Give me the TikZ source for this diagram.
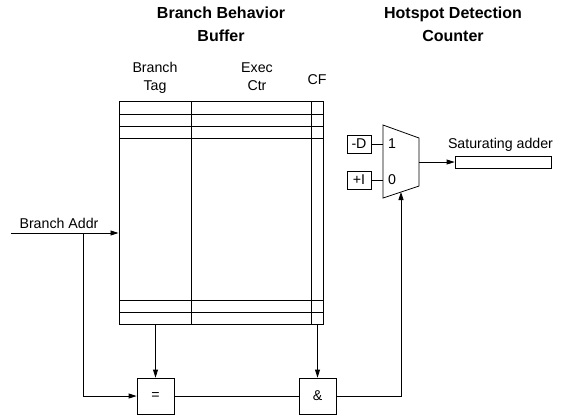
\documentclass[tikz,border=0pt]{standalone}
\usepackage{fontspec}
\setmainfont{Liberation Sans}
\usetikzlibrary{arrows.meta}
\tikzset{
  wire/.style={line width=0.8pt},
  arr/.style={wire,-{Triangle[length=8pt,width=5pt]}},
  txt/.style={font=\fontsize{14.2}{16}\selectfont, inner sep=0pt, anchor=base},
  ttl/.style={font=\bfseries\fontsize{16}{18}\selectfont, inner sep=0pt, anchor=base},
  blk/.style={draw, line width=0.8pt, inner sep=0pt, font=\fontsize{14.2}{16}\selectfont},
  tline/.style={line width=1pt}
}
\begin{document}
\begin{tikzpicture}[x=1pt,y=-1pt]
\useasboundingbox (0,0) rectangle (561,416);
% titles
\node[ttl] (t1) at (221,18) {Branch Behavior};
\node[ttl] (t2) at (221,41.5) {Buffer};
\node[ttl] (t3) at (453,18) {Hotspot Detection};
\node[ttl] (t4) at (453,41.5) {Counter};
% column headers
\node[txt] (h1) at (155,72) {Branch};
\node[txt] (h2) at (155,90) {Tag};
\node[txt] (h3) at (257,72) {Exec};
\node[txt] (h4) at (257,90) {Ctr};
\node[txt] (h5) at (317,84) {CF};
% table
\node[draw, tline, minimum width=204pt, minimum height=222.5pt, inner sep=0pt] (bbb) at (221,213) {};
\draw[tline] (191,101.7) -- (191,324.3);
\draw[tline] (311.5,101.7) -- (311.5,324.3);
\foreach \yy in {114,126,138,300,312}{
  \draw[tline] (119,\yy) -- (323,\yy);
}
% branch addr
\coordinate (start) at (11,233);
\coordinate (j) at (83,233);
\node[txt] (ba) at (59,228) {Branch Addr};
\draw[arr] (start) -- (start -| bbb.west);
% comparators
\node[blk, minimum width=37pt, minimum height=36pt] (eq) at (155.5,396) {=};
\node[blk, minimum width=37pt, minimum height=36pt] (and) at (317.5,396) {\&};
\draw[arr] (j) |- (eq.west);
\draw[arr] (eq.north |- bbb.south) -- (eq.north);
\draw[arr] (and.north |- bbb.south) -- (and.north);
\draw[wire] (eq.east) -- (and.west);
% mux
\coordinate (m1) at (383,125);
\coordinate (m2) at (419,138);
\coordinate (m3) at (419,186);
\coordinate (m4) at (383,198);
\coordinate (mb) at (401,192);
\coordinate (mo) at (419,162);
\draw[wire] (m1) -- (m2) -- (m3) -- (m4) -- cycle;
\draw[arr] (and.east) -| (mb);
\node[blk, minimum width=24pt, minimum height=18pt] (dbox) at (359,144) {-D};
\node[blk, minimum width=24pt, minimum height=18pt] (ibox) at (359,180) {+I};
\draw[wire] (dbox.east) -- (dbox.east -| m1);
\draw[wire] (ibox.east) -- (ibox.east -| m1);
\node[txt, anchor=center] (one) at (392,144) {1};
\node[txt, anchor=center] (zero) at (392,180) {0};
% saturating adder
\node[draw, wire, minimum width=96pt, minimum height=11.5pt, inner sep=0pt] (sat) at (503,162.5) {};
\node[txt] (satl) at (500.5,148) {Saturating adder};
\draw[arr] (mo) -- (mo -| sat.west);
\end{tikzpicture}
\end{document}
